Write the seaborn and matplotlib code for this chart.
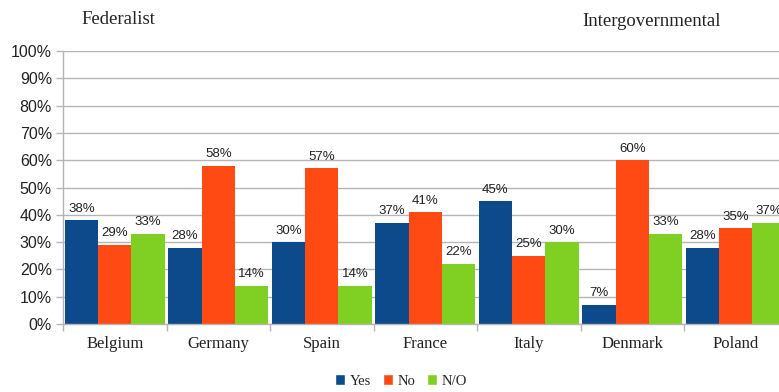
import matplotlib
matplotlib.use("Agg")
import matplotlib.pyplot as plt
import seaborn as sns
import pandas as pd
from matplotlib.patches import Patch

countries = ["Belgium", "Germany", "Spain", "France", "Italy", "Denmark", "Poland"]
yes_vals = [38, 28, 30, 37, 45, 7, 28]
no_vals = [29, 58, 57, 41, 25, 60, 35]
no_opinion_vals = [33, 14, 14, 22, 30, 33, 37]
series = ["Yes", "No", "N/O"]
colors = ["#0C4A8C", "#FF4A14", "#80D024"]

rows = []
for i, c in enumerate(countries):
    for s, vals in zip(series, [yes_vals, no_vals, no_opinion_vals]):
        rows.append({"country": c, "answer": s, "value": vals[i]})
df = pd.DataFrame(rows)

sns.set_theme(style="white")
plt.rcParams["font.family"] = ["Liberation Sans", "DejaVu Sans"]
serif = ["Liberation Serif", "DejaVu Serif"]

W, H = 779, 392
fig = plt.figure(figsize=(W / 100, H / 100), dpi=100)
left, right = 63, 787.5
top, bottom = 51, 324
ax = fig.add_axes([left / W, 1 - bottom / H, (right - left) / W, (bottom - top) / H])

sns.barplot(data=df, x="country", y="value", hue="answer", order=countries,
            hue_order=series, palette=colors, width=0.97, saturation=1,
            ax=ax, legend=False, linewidth=0)

for cont in ax.containers:
    ax.bar_label(cont, labels=[f"{int(v)}%" for v in cont.datavalues],
                 padding=4, fontsize=9.5, color="#222222",
                 family=["Liberation Sans", "DejaVu Sans"])

ax.set_ylim(0, 100)
ax.set_xlim(-0.5, len(countries) - 0.5)
ax.set_yticks(range(0, 101, 10))
ax.set_yticklabels([f"{v}%" for v in range(0, 101, 10)], fontsize=11.5, color="#222222")
ax.yaxis.grid(True, color="#b5b5b5", linewidth=1)
ax.set_axisbelow(True)
ax.tick_params(axis="y", length=5, color="#b5b5b5", width=1, pad=3, left=True)

ax.set_xticks(range(len(countries)))
ax.set_xticklabels(countries, fontsize=12, color="#222222", family=serif)
ax.tick_params(axis="x", length=0, pad=9)
ax.set_xticks([i - 0.5 for i in range(len(countries) + 1)], minor=True)
ax.tick_params(axis="x", which="minor", length=5, color="#b5b5b5", width=1, bottom=True)

ax.set_xlabel("")
ax.set_ylabel("")
for side in ["top", "right"]:
    ax.spines[side].set_visible(False)
for side in ["left", "bottom"]:
    ax.spines[side].set_color("#b5b5b5")
    ax.spines[side].set_linewidth(1)

fig.text(81 / W, 1 - 20 / H, "Federalist", fontsize=13.5, color="#222222",
         family=serif, va="center", ha="left")
fig.text(582 / W, 1 - 22 / H, "Intergovernmental", fontsize=13.5, color="#222222",
         family=serif, va="center", ha="left")

handles = [Patch(facecolor=c, label=s) for c, s in zip(colors, series)]
fig.legend(handles=handles, loc="center", bbox_to_anchor=(401 / W, 1 - 381 / H),
           ncol=3, frameon=False, handlelength=0.7, handleheight=0.7,
           handletextpad=0.3, columnspacing=0.8,
           prop={"family": serif, "size": 10.5})

fig.savefig("out.png", dpi=100)
